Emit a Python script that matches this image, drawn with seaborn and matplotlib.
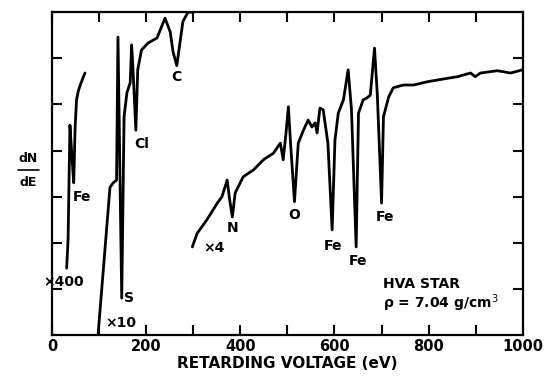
import matplotlib
matplotlib.use("Agg")
import matplotlib.pyplot as plt
import seaborn as sns
import pandas as pd
from matplotlib.ticker import MultipleLocator

# ---- data ----
# x400 segment (low-energy Fe)
seg1_ev = [31, 34, 38, 42, 46, 49, 52, 56, 60, 65, 70]
seg1_dn = [1.45, 2.06, 4.55, 3.9, 3.3, 4.5, 5.1, 5.3, 5.42, 5.56, 5.68]

# x10 segment (S, Cl, C)
seg2_ev = [98, 123, 130, 137, 140, 148, 153, 159, 166, 169, 172, 178, 182,
           190, 204, 223, 240, 251, 257, 265, 272, 278, 289, 300]
seg2_dn = [0.04, 3.2, 3.3, 3.36, 6.46, 0.8, 4.73, 5.25, 5.47, 6.29, 5.75,
           4.44, 5.75, 6.18, 6.33, 6.44, 6.87, 6.57, 6.14, 5.84, 6.36, 6.8,
           7.0, 7.0]

# x4 segment (N, O, Fe)
seg3_ev = [298, 308, 329, 351, 361, 372, 377, 383, 389, 406, 428, 449, 470,
           485, 491, 497, 502, 507, 515, 523, 534, 544, 552, 559, 563, 569,
           576, 586, 595, 601, 608, 619, 629, 636, 646, 651, 661, 669, 676,
           685, 691, 700, 704, 715, 725, 746, 768, 797, 831, 861, 889, 899,
           910, 946, 974, 1000]
seg3_dn = [1.91, 2.2, 2.5, 2.86, 3.0, 3.36, 2.95, 2.56, 3.08, 3.43, 3.58,
           3.8, 3.94, 4.16, 3.8, 4.38, 4.95, 4.1, 2.89, 4.16, 4.44, 4.66,
           4.51, 4.6, 4.38, 4.92, 4.88, 4.16, 2.28, 4.23, 4.81, 5.1, 5.75,
           4.9, 1.91, 4.81, 5.1, 5.14, 5.2, 6.22, 5.2, 2.86, 4.73, 5.16,
           5.36, 5.42, 5.42, 5.49, 5.55, 5.6, 5.68, 5.6, 5.68, 5.73, 5.68,
           5.75]

x_ticks = [0, 200, 400, 600, 800, 1000]

sns.set_theme(style="ticks")
plt.rcParams["font.family"] = ["DejaVu Sans"]
plt.rcParams["text.color"] = "black"
plt.rcParams["axes.labelcolor"] = "black"
plt.rcParams["xtick.color"] = "black"
plt.rcParams["ytick.color"] = "black"

fig = plt.figure(figsize=(5.48, 3.79), dpi=100)
ax = fig.add_axes([0.095, 0.116, 0.859, 0.852])

for xs, ys in [(seg1_ev, seg1_dn), (seg2_ev, seg2_dn), (seg3_ev, seg3_dn)]:
    df = pd.DataFrame({"ev": xs, "dn": ys})
    sns.lineplot(data=df, x="ev", y="dn", ax=ax, sort=False, estimator=None,
                 color="black", linewidth=2.0, solid_joinstyle="round")

ax.set_xlim(0, 1000)
ax.set_ylim(0, 7)
ax.set_xticks(range(0, 1001, 100))
ax.set_xticklabels([str(v) if v in x_ticks else "" for v in range(0, 1001, 100)],
                   fontsize=10.5, fontweight="bold", color="black")
ax.set_yticks([1, 2, 3, 4, 5, 6])
ax.set_yticklabels([])
ax.tick_params(axis="both", direction="in", length=7, width=1.5,
               top=True, right=True, colors="black", pad=3)
for s in ax.spines.values():
    s.set_visible(True)
    s.set_linewidth(1.6)
    s.set_color("black")

ax.set_xlabel("RETARDING VOLTAGE (eV)", fontsize=11, fontweight="bold",
              labelpad=1, color="black")
ax.set_ylabel("")

fw = dict(fontsize=10, fontweight="bold", color="black")
ax.text(43, 3.0, "Fe", ha="left", va="center", **fw)
ax.text(25, 1.15, "×400", ha="center", va="center", clip_on=False, **fw)
ax.text(164, 0.8, "S", ha="center", va="center", **fw)
ax.text(147, 0.26, "×10", ha="center", va="center", **fw)
ax.text(174, 4.15, "Cl", ha="left", va="center", **fw)
ax.text(265, 5.6, "C", ha="center", va="center", **fw)
ax.text(322, 1.88, "×4", ha="left", va="center", **fw)
ax.text(384, 2.32, "N", ha="center", va="center", **fw)
ax.text(514, 2.6, "O", ha="center", va="center", **fw)
ax.text(596, 1.92, "Fe", ha="center", va="center", **fw)
ax.text(649, 1.6, "Fe", ha="center", va="center", **fw)
ax.text(707, 2.55, "Fe", ha="center", va="center", **fw)
ax.text(703, 1.1, "HVA STAR", ha="left", va="center", **fw)
ax.text(703, 0.68, "ρ = 7.04 g/cm$^3$", ha="left", va="center", **fw)

fig.text(0.052, 0.583, "dN", ha="center", va="center", fontsize=9,
         fontweight="bold", color="black")
fig.text(0.052, 0.518, "dE", ha="center", va="center", fontsize=9,
         fontweight="bold", color="black")
fig.add_artist(plt.Line2D([0.033, 0.071], [0.551, 0.551], color="black",
                          linewidth=1.2))

fig.savefig("out.png", dpi=100)
